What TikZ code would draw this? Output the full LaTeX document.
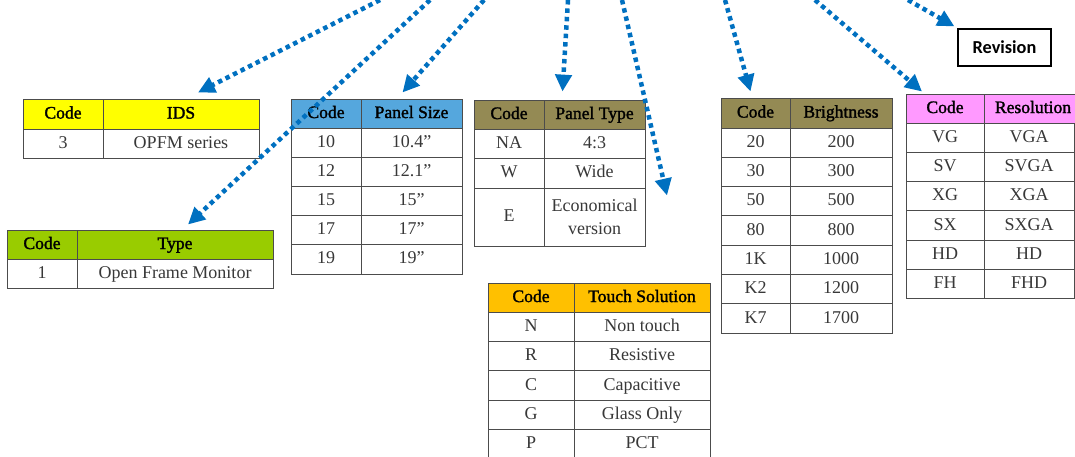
\documentclass[tikz,border=0pt]{standalone}
\usepackage{fontspec}
\setmainfont{Liberation Serif}
\newfontfamily\headfont[FakeBold=1.6]{Liberation Serif}
\newfontfamily\revfont{Carlito}
\usetikzlibrary{arrows.meta}

\definecolor{linkblue}{HTML}{0070C0}
\definecolor{idsyellow}{HTML}{FFFF00}
\definecolor{typegreen}{HTML}{99CC00}
\definecolor{sizeblue}{HTML}{55A7DD}
\definecolor{olive}{HTML}{948A54}
\definecolor{touchorange}{HTML}{FFC000}
\definecolor{respink}{HTML}{FF99FF}

\tikzset{
  cellbase/.style={draw=black!70, line width=0.7pt, inner sep=0pt,
    font=\fontsize{12.8}{15}\selectfont, text=black!78},
  cellbox/.style={cellbase, text height=9pt, text depth=2.5pt},
  headbox/.style={cellbox, font=\headfont\fontsize{12.5}{15}\selectfont, text=black},
  link/.style={draw=linkblue, line width=3.2pt, dash pattern=on 3.2pt off 2.8pt,
    -{Triangle[length=12pt,width=11.5pt]}},
}

% one table cell: [style] x1 y1 x2 y2 name text (pixel units)
\newcommand{\tabcell}[7][cellbox]{%
  \node[#1, minimum width={(#4-#2)*0.025cm}, minimum height={(#5-#3)*0.025cm}]
    (#6) at ({(#2+#4)/2},{(#3+#5)/2}) {#7};}

\begin{document}
\begin{tikzpicture}[x=0.025cm, y=-0.025cm]
\useasboundingbox (0,0) rectangle (1075,457);

% IDS
\tabcell[headbox, fill=idsyellow]{23}{99}{103}{129}{idsC}{Code}
\tabcell[headbox, fill=idsyellow]{103}{99}{259}{129}{idsH}{IDS}
\tabcell{23}{129}{103}{158}{ids1c}{3}
\tabcell{103}{129}{259}{158}{ids1t}{OPFM series}

% Type
\tabcell[headbox, fill=typegreen]{7}{230}{77}{259}{typeC}{Code}
\tabcell[headbox, fill=typegreen]{77}{230}{273}{259}{typeH}{Type}
\tabcell{7}{259}{77}{288}{type1c}{1}
\tabcell{77}{259}{273}{288}{type1t}{Open Frame Monitor}

% Panel size
\tabcell[headbox, fill=sizeblue]{291}{99}{361}{128}{sizeC}{Code}
\tabcell[headbox, fill=sizeblue]{361}{99}{462}{128}{sizeH}{Panel Size}
\foreach \c/\t [count=\i, evaluate=\i as \ya using 128+(\i-1)*29.2,
    evaluate=\i as \yb using 128+\i*29.2] in {10/10.4”, 12/12.1”, 15/15”, 17/17”, 19/19”}{
  \tabcell{291}{\ya}{361}{\yb}{size\i c}{\c}
  \tabcell{361}{\ya}{462}{\yb}{size\i t}{\t}
}

% Panel type
\tabcell[headbox, fill=olive]{474}{100}{544}{129}{ptypeC}{Code}
\tabcell[headbox, fill=olive]{544}{100}{645}{129}{ptypeH}{Panel Type}
\tabcell{474}{129}{544}{158}{ptype1c}{NA}
\tabcell{544}{129}{645}{158}{ptype1t}{4:3}
\tabcell{474}{158}{544}{188}{ptype2c}{W}
\tabcell{544}{158}{645}{188}{ptype2t}{Wide}
\tabcell{474}{188}{544}{246}{ptype3c}{E}
\tabcell[cellbase, align=center]{544}{188}{645}{246}{ptype3t}{Economical\\[1pt]version}

% Touch solution
\tabcell[headbox, fill=touchorange]{488}{283}{574}{312}{touchC}{Code}
\tabcell[headbox, fill=touchorange]{574}{283}{710}{312}{touchH}{Touch Solution}
\foreach \c/\t [count=\i, evaluate=\i as \ya using 312+(\i-1)*29.4,
    evaluate=\i as \yb using 312+\i*29.4] in {N/Non touch, R/Resistive, C/Capacitive, G/Glass Only, P/PCT}{
  \tabcell{488}{\ya}{574}{\yb}{touch\i c}{\c}
  \tabcell{574}{\ya}{710}{\yb}{touch\i t}{\t}
}

% Brightness
\tabcell[headbox, fill=olive]{721}{98}{790}{128}{brightC}{Code}
\tabcell[headbox, fill=olive]{790}{98}{892}{128}{brightH}{Brightness}
\foreach \c/\t [count=\i, evaluate=\i as \ya using 128+(\i-1)*29.3,
    evaluate=\i as \yb using 128+\i*29.3] in {20/200, 30/300, 50/500, 80/800, 1K/1000, K2/1200, K7/1700}{
  \tabcell{721}{\ya}{790}{\yb}{bright\i c}{\c}
  \tabcell{790}{\ya}{892}{\yb}{bright\i t}{\t}
}

% Resolution
\tabcell[headbox, fill=respink]{906}{94}{984}{123}{resC}{Code}
\tabcell[headbox, fill=respink]{984}{94}{1082}{123}{resH}{Resolution}
\foreach \c/\t [count=\i, evaluate=\i as \ya using 123+(\i-1)*29.3,
    evaluate=\i as \yb using 123+\i*29.3] in {VG/VGA, SV/SVGA, XG/XGA, SX/SXGA, HD/HD, FH/FHD}{
  \tabcell{906}{\ya}{984}{\yb}{res\i c}{\c}
  \tabcell{984}{\ya}{1074}{\yb}{res\i t}{\t}
}

% Revision
\node[draw=black, line width=0.8pt, minimum width=93*0.025cm, minimum height=37*0.025cm,
  font=\revfont\fontsize{13}{15}\selectfont\bfseries] (rev) at (1004.5,47.5) {Revision};

% arrows from the part number above
\coordinate (topIDS) at (380,0);
\coordinate (topType) at (430,0);
\coordinate (topSize) at (484,0);
\coordinate (topPType) at (568,0);
\coordinate (topTouch) at (622,0);
\coordinate (topBright) at (725,0);
\coordinate (topRes) at (815,0);
\coordinate (topRev) at (908,0);

\draw[link] (topIDS) -- ([shift={(17,-6)}]idsH.north);
\draw[link] (topType) -- ([shift={(13,-5)}]typeH.north);
\draw[link] (topSize) -- ([shift={(-9,-6)}]sizeH.north);
\draw[link] (topPType) -- ([shift={(-32,-8)}]ptypeH.north);
\draw[link] (topTouch) -- ([shift={(25,-87)}]touchH.north);
\draw[link] (topBright) -- ([shift={(-5,-6)}]brightC.north);
\draw[link] (topRes) -- ([shift={(-23,-2)}]resC.north);
\draw[link] (topRev) -- ([shift={(-3,-2)}]rev.north west);
\end{tikzpicture}
\end{document}
